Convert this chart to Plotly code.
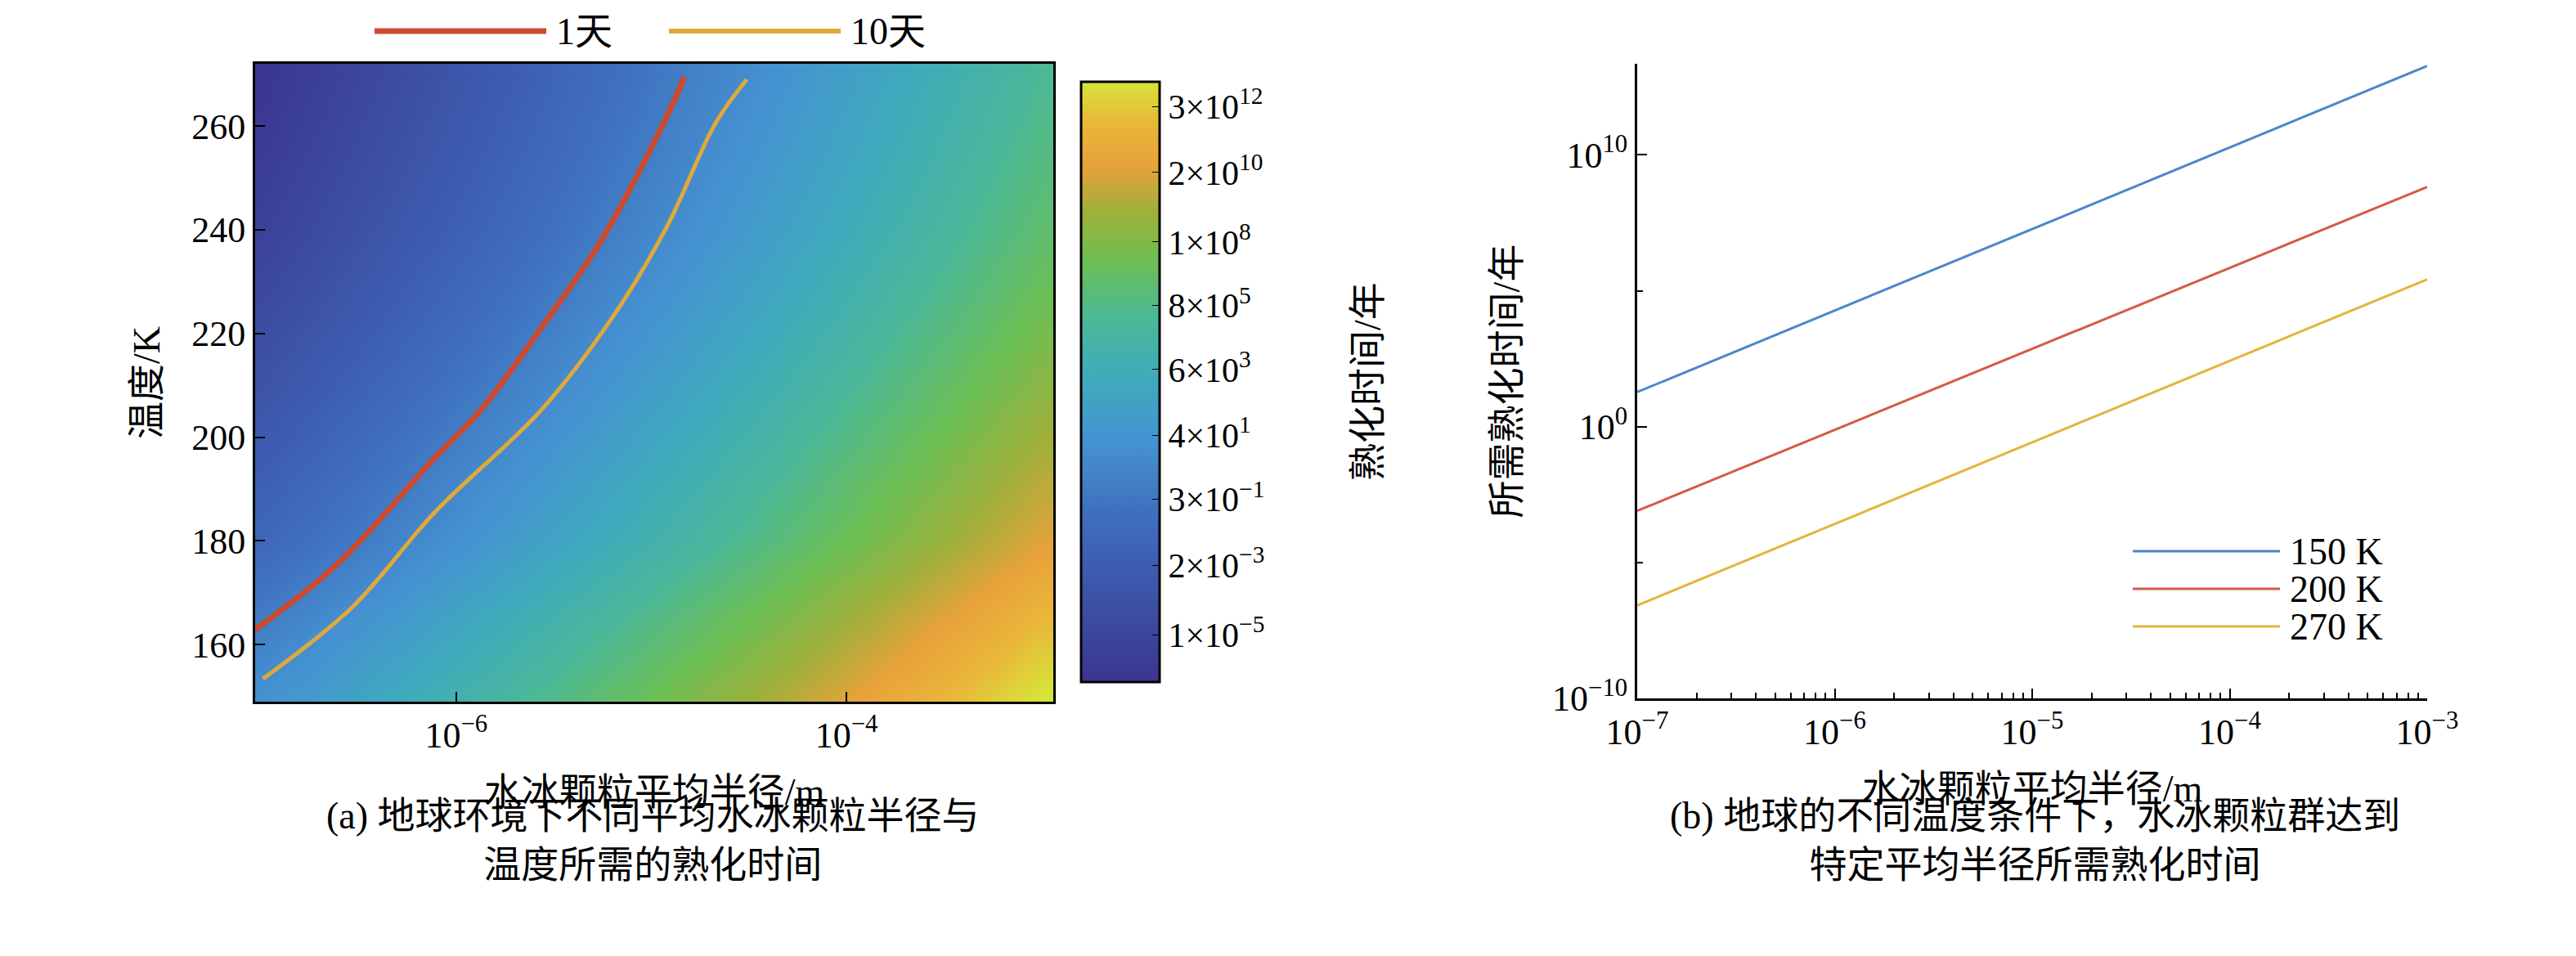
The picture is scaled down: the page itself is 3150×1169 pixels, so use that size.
import plotly.graph_objects as go

# ---- panel (a): heatmap of log10(ripening time / yr) ----
r_exp = [-7, -6.5, -6, -5.5, -5, -4.5, -4, -3.5, -3]
temps = [150, 165, 180, 195, 210, 225, 240, 255, 270]
log_t = [
    [1.3, 2.8, 4.3, 5.8, 7.3, 8.8, 10.3, 11.8, 13.3],
    [-0.1, 1.4, 2.9, 4.4, 5.9, 7.4, 8.9, 10.4, 11.9],
    [-1.7, -0.2, 1.3, 2.8, 4.3, 5.8, 7.3, 8.8, 10.3],
    [-2.7, -1.2, 0.3, 1.8, 3.3, 4.8, 6.3, 7.8, 9.3],
    [-3.7, -2.2, -0.7, 0.8, 2.3, 3.8, 5.3, 6.8, 8.3],
    [-4.6, -3.1, -1.6, -0.1, 1.4, 2.9, 4.4, 5.9, 7.4],
    [-5.4, -3.9, -2.4, -0.9, 0.6, 2.1, 3.6, 5.1, 6.6],
    [-6.0, -4.5, -3.0, -1.5, 0.0, 1.5, 3.0, 4.5, 6.0],
    [-6.5, -5.0, -3.5, -2.0, -0.5, 1.0, 2.5, 4.0, 5.5],
]
cb_vals = [12.48, 10.3, 8.0, 5.9, 3.78, 1.6, -0.52, -2.7, -5.0]
cb_text = ["3×10<sup>12</sup>", "2×10<sup>10</sup>", "1×10<sup>8</sup>", "8×10<sup>5</sup>",
           "6×10<sup>3</sup>", "4×10<sup>1</sup>", "3×10<sup>−1</sup>", "2×10<sup>−3</sup>",
           "1×10<sup>−5</sup>"]

# 1-day and 10-day contours (log10 r, T)
day1_r = [-7.03, -6.61, -6.11, -5.87, -5.56, -5.26, -4.96, -4.83]
day1_T = [162.9, 175.5, 196.0, 205.4, 221.3, 237.7, 258.8, 269.4]
day10_r = [-6.99, -6.53, -6.11, -5.56, -5.19, -4.92, -4.67, -4.51]
day10_T = [153.4, 167.3, 185.5, 205.4, 223.6, 240.6, 260.6, 269.0]

# ---- panel (b): ripening time vs radius ----
radius = [1e-7, 1e-5, 1e-3]
t150 = [1.27, 7.27, 13.27]
t200 = [-3.1, 2.86, 8.82]
t270 = [-6.58, -0.58, 5.42]

FONT = "Liberation Serif, Noto Sans CJK SC"
W, H = 3150, 1169

parula = [
    [0.0, "#3b3590"], [0.12, "#3c4ea4"], [0.28, "#3f6fbd"], [0.4, "#4592d2"],
    [0.5, "#3fa9be"], [0.6, "#4ab89a"], [0.7, "#6cbf55"], [0.78, "#9db03b"],
    [0.86, "#e8a23a"], [0.93, "#e9b73a"], [1.0, "#d6e43a"],
]

fig = go.Figure()
fig.add_trace(go.Heatmap(
    x=[10 ** e for e in r_exp], y=temps, z=log_t, zsmooth="best",
    zmin=-6.56, zmax=13.3, colorscale=parula, xaxis="x", yaxis="y",
    colorbar=dict(x=1314 / W, xanchor="left", xpad=0, y=1 - 459 / H, yanchor="middle",
                  len=(836 - 82) / H, thickness=96, outlinecolor="black", outlinewidth=3,
                  tickvals=cb_vals, ticktext=cb_text, ticks="inside", ticklen=10,
                  tickcolor="black", tickfont=dict(size=42, family=FONT)),
))
fig.add_trace(go.Scatter(x=[10 ** e for e in day1_r], y=day1_T, mode="lines",
                         line=dict(color="#cc4a2e", width=7, shape="spline"),
                         xaxis="x", yaxis="y"))
fig.add_trace(go.Scatter(x=[10 ** e for e in day10_r], y=day10_T, mode="lines",
                         line=dict(color="#dfa93a", width=5, shape="spline"),
                         xaxis="x", yaxis="y"))

for ts, col in [(t150, "#4a88c8"), (t200, "#d65a46"), (t270, "#e3b43c")]:
    fig.add_trace(go.Scatter(x=radius, y=[10 ** v for v in ts], mode="lines",
                             line=dict(color=col, width=3), xaxis="x2", yaxis="y2"))

minor_x = [m * 10 ** e for e in range(-7, -3) for m in range(2, 10)]

ax_common = dict(showline=True, linecolor="black", linewidth=3, ticks="inside",
                 ticklen=12, tickwidth=2, tickcolor="black", showgrid=False, zeroline=False,
                 tickfont=dict(size=44, family=FONT, color="black"), automargin=False)

fig.update_layout(
    width=W, height=H, margin=dict(l=0, r=0, t=0, b=0), showlegend=False,
    paper_bgcolor="white", plot_bgcolor="white", font=dict(family=FONT, color="black"),
    xaxis=dict(domain=[304 / W, 1280 / W], type="log", range=[-7.03, -2.94], mirror=True,
               tickvals=[1e-6, 1e-4], ticktext=["10<sup>−6</sup>", "10<sup>−4</sup>"],
               title=dict(text="水冰颗粒平均半径/m", font=dict(size=46), standoff=30),
               **ax_common),
    yaxis=dict(domain=[1 - 850 / H, 1 - 70 / H], range=[149, 272], mirror=True,
               tickvals=[160, 180, 200, 220, 240, 260],
               title=dict(text="温度/K", font=dict(size=46), standoff=25), **ax_common),
    xaxis2=dict(domain=[1994 / W, 2960 / W], type="log", range=[-7, -3],
                tickvals=[1e-7, 1e-6, 1e-5, 1e-4, 1e-3],
                ticktext=["10<sup>−7</sup>", "10<sup>−6</sup>", "10<sup>−5</sup>",
                          "10<sup>−4</sup>", "10<sup>−3</sup>"],
                minor=dict(ticks="inside", ticklen=7, tickcolor="black", tickvals=minor_x,
                           showgrid=False),
                title=dict(text="水冰颗粒平均半径/m", font=dict(size=46), standoff=30),
                anchor="y2", **ax_common),
    yaxis2=dict(domain=[1 - 846 / H, 1 - 70 / H], type="log", range=[-10, 13.35],
                tickvals=[1e-10, 1, 1e10],
                ticktext=["10<sup>−10</sup>", "10<sup>0</sup>", "10<sup>10</sup>"],
                minor=dict(ticks="inside", ticklen=7, tickcolor="black",
                           tickvals=[1e-5, 1e5], showgrid=False),
                title=dict(text="所需熟化时间/年", font=dict(size=46), standoff=25),
                anchor="x2", **ax_common),
)

# colorbar title
fig.add_annotation(xref="paper", yref="paper", x=1665 / W, y=1 - 459 / H, textangle=-90,
                   text="熟化时间/年", showarrow=False, xanchor="center", yanchor="middle",
                   font=dict(size=46, family=FONT))

# hand-drawn legends
def legend_item(x0, x1, y, color, width, label):
    fig.add_shape(type="line", xref="paper", yref="paper", x0=x0 / W, x1=x1 / W,
                  y0=1 - y / H, y1=1 - y / H, line=dict(color=color, width=width))
    fig.add_annotation(xref="paper", yref="paper", x=(x1 + 10) / W, y=1 - y / H,
                       xanchor="left", yanchor="middle", text=label, showarrow=False,
                       font=dict(size=46, family=FONT))

legend_item(450, 660, 30, "#cc4a2e", 7, "1天")
legend_item(810, 1020, 30, "#dfa93a", 6, "10天")
legend_item(2600, 2780, 666, "#4a88c8", 3, "150 K")
legend_item(2600, 2780, 712, "#d65a46", 3, "200 K")
legend_item(2600, 2780, 758, "#e3b43c", 3, "270 K")

captions = [
    (790, "(a) 地球环境下不同平均水冰颗粒半径与<br>温度所需的熟化时间"),
    (2480, "(b) 地球的不同温度条件下，水冰颗粒群达到<br>特定平均半径所需熟化时间"),
]
for cx, txt in captions:
    fig.add_annotation(xref="paper", yref="paper", x=cx / W, y=1 - 1020 / H,
                       xanchor="center", yanchor="middle", text=txt, showarrow=False,
                       font=dict(size=46, family=FONT))

fig.write_html("out.html")
